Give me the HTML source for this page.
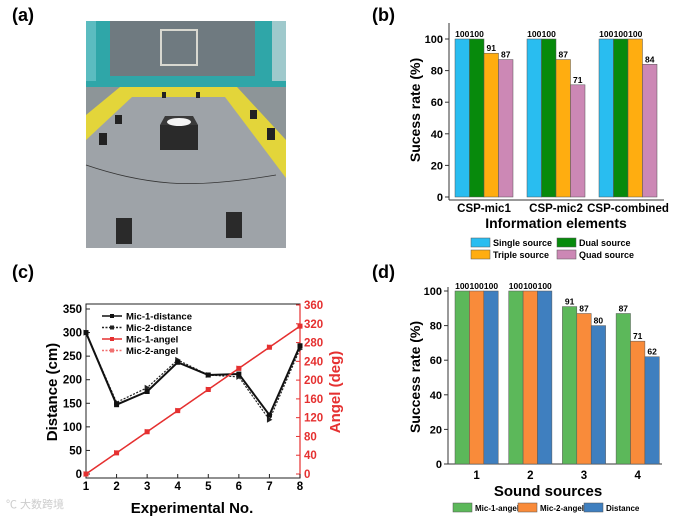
<!DOCTYPE html>
<html><head><meta charset="utf-8"><style>
body{margin:0;background:#fff;}
svg{display:block;font-family:"Liberation Sans",Arial,sans-serif;font-weight:bold;}
</style></head><body>
<svg id="fig" width="674" height="519" viewBox="0 0 674 519" xmlns="http://www.w3.org/2000/svg">
<text x="12" y="21" font-size="18">(a)</text>
<text x="372" y="21" font-size="18">(b)</text>
<text x="12" y="278" font-size="18">(c)</text>
<text x="372" y="278" font-size="18">(d)</text>

<g>
<rect x="86" y="21" width="200" height="227" fill="#8d9598"/>
<rect x="86" y="21" width="200" height="66" fill="#2fa6a8"/>
<rect x="110" y="21" width="145" height="55" fill="#6f7a80"/>
<rect x="86" y="21" width="10" height="60" fill="#5bbcc0"/>
<rect x="272" y="21" width="14" height="60" fill="#9fc9cc"/>
<rect x="161" y="30" width="36" height="35" fill="none" stroke="#d8d8d0" stroke-width="2"/>
<polygon points="120,87 237,87 286,140 286,183 86,183 86,115" fill="#e3d53a"/>
<polygon points="132,97 225,97 286,178 286,248 86,248 86,140" fill="#9ea3a8"/>
<rect x="160" y="125" width="38" height="25" fill="#2a2a2a"/>
<polygon points="165,116 193,116 198,125 160,125" fill="#3a3a3a"/>
<ellipse cx="179" cy="122" rx="12" ry="4" fill="#f4f4f4"/>
<path d="M86,165 Q130,180 170,183 T276,175" stroke="#333" fill="none" stroke-width="0.8"/>
<rect x="116" y="218" width="16" height="26" fill="#2a2a2a"/>
<rect x="226" y="212" width="16" height="26" fill="#2a2a2a"/>
<rect x="115" y="115" width="7" height="9" fill="#222"/>
<rect x="99" y="133" width="8" height="12" fill="#222"/>
<rect x="250" y="110" width="7" height="9" fill="#222"/>
<rect x="267" y="128" width="8" height="12" fill="#222"/>
<rect x="162" y="92" width="4" height="6" fill="#222"/>
<rect x="196" y="92" width="4" height="6" fill="#222"/>
</g>
<g id="pb"></g><g id="pc"></g><g id="pd"></g>
</svg>
<script>
// Panel b data
const bCategories=["CSP-mic1","CSP-mic2","CSP-combined"];
const bSeriesNames=["Single source","Dual source","Triple source","Quad source"];
const bSingle=[100,100,100];
const bDual=[100,100,100];
const bTriple=[91,87,100];
const bQuad=[87,71,84];
const bTicks=[0,20,40,60,80,100];
// Panel c data
const cX=[1,2,3,4,5,6,7,8];
const cMic1Dist=[300,147,175,237,210,212,125,272];
const cMic2Dist=[300,152,183,242,210,206,115,265];
const cMic1Angle=[0,45,90,135,180,225,270,315];
const cMic2Angle=[0,45,90,135,180,225,270,315];
const cLeftTicks=[0,50,100,150,200,250,300,350];
const cRightTicks=[0,40,80,120,160,200,240,280,320,360];
// Panel d data
const dCategories=["1","2","3","4"];
const dMic1=[100,100,91,87];
const dMic2=[100,100,87,71];
const dDist=[100,100,80,62];
const dTicks=[0,20,40,60,80,100];

const NS="http://www.w3.org/2000/svg";
function mk(p,t,a,txt){const e=document.createElementNS(NS,t);for(const k in a)e.setAttribute(k,a[k]);if(txt!==undefined)e.textContent=txt;p.appendChild(e);return e;}

// ---------- Panel b ----------
(function(){
const g=document.getElementById('pb');
const x0=449,x1=664,yTop=23,yBot=200;
const y=v=>197-(v/100)*158;
const gx=i=>455+i*72;
const bw=14.5;
mk(g,'line',{x1:x0,y1:yTop,x2:x0,y2:yBot,stroke:'#333','stroke-width':1});
mk(g,'line',{x1:x0,y1:yBot,x2:x1,y2:yBot,stroke:'#333','stroke-width':1});
bTicks.forEach(t=>{
 mk(g,'line',{x1:x0-4,y1:y(t),x2:x0,y2:y(t),stroke:'#333'});
 const l=mk(g,'text',{x:x0-6,y:y(t)+4,'font-size':11,'text-anchor':'end'},t);
 
});
const series=[bSingle,bDual,bTriple,bQuad];
const cols=['#29bdf0','#078a0c','#ffad10','#cc88b5'];
series.forEach((s,si)=>s.forEach((v,i)=>{
 const bx=gx(i)+si*bw;
 const r=mk(g,'rect',{x:bx,y:y(v),width:bw,height:y(0)-y(v),fill:cols[si],stroke:'#555','stroke-width':0.5});
 
 
 mk(g,'text',{x:bx+bw/2,y:y(v)-2,'font-size':8.5,'text-anchor':'middle'},v);
}));
bCategories.forEach((c,i)=>{
 const t=mk(g,'text',{x:gx(i)+29,y:212,'font-size':11.5,'text-anchor':'middle'},c);
 
});
const xt=mk(g,'text',{x:556,y:228,'font-size':14,'text-anchor':'middle'},'Information elements');

const yt=mk(g,'text',{x:0,y:0,'font-size':14,'text-anchor':'middle',transform:'translate(420,110) rotate(-90)'},'Sucess rate (%)');

const lp=[[471,242],[557,242],[471,254],[557,254]];
[0,1,2,3].forEach((si,k)=>{
 mk(g,'rect',{x:lp[k][0],y:lp[k][1]-4,width:19,height:9,fill:cols[si],stroke:'#555','stroke-width':0.5});
 const t=mk(g,'text',{x:lp[k][0]+22,y:lp[k][1]+4,'font-size':9},bSeriesNames[si]);
 
});
})();

// ---------- Panel c ----------
(function(){
const g=document.getElementById('pc');
const x0=86,x1=300,yTop=304,yBot=478;
const x=v=>86+(v-1)*(214/7);
const yl=v=>474-v*(165/350);
const yr=v=>474-v*(169/360);
mk(g,'rect',{x:x0,y:yTop,width:x1-x0,height:yBot-yTop,fill:'none',stroke:'#222'});
mk(g,'line',{x1:x1,y1:yTop,x2:x1,y2:yBot,stroke:'#e53030','stroke-width':1.2});
cLeftTicks.forEach(t=>{
 mk(g,'line',{x1:x0,y1:yl(t),x2:x0+4,y2:yl(t),stroke:'#222'});
 const l=mk(g,'text',{x:x0-4,y:yl(t)+4,'font-size':11.5,'text-anchor':'end'},t);
 
});
cRightTicks.forEach(t=>{
 mk(g,'line',{x1:x1-4,y1:yr(t),x2:x1,y2:yr(t),stroke:'#e53030'});
 const l=mk(g,'text',{x:x1+4,y:yr(t)+4,'font-size':11.5,fill:'#e53030'},t);
 
});
cX.forEach(v=>{
 mk(g,'line',{x1:x(v),y1:yBot,x2:x(v),y2:yBot-4,stroke:'#222'});
 const l=mk(g,'text',{x:x(v),y:yBot+12,'font-size':11.5,'text-anchor':'middle'},v);
 
});
function line(vals,sc,col,dash,w,name,marker){
 const p=mk(g,'polyline',{points:vals.map((v,i)=>x(cX[i])+','+sc(v)).join(' '),fill:'none',stroke:col,'stroke-width':w,'stroke-dasharray':dash});
 
 
 vals.forEach((v,i)=>{
  if(marker==='sq')mk(g,'rect',{x:x(cX[i])-2.5,y:sc(v)-2.5,width:5,height:5,fill:col});
  else mk(g,'path',{d:`M${x(cX[i])-2.5},${sc(v)-3}L${x(cX[i])+3},${sc(v)}L${x(cX[i])-2.5},${sc(v)+3}Z`,fill:col});
 });
}
line(cMic2Dist,yl,'#222','2,1.5',1.2,'c-line-mic2-distance','tri');
line(cMic1Dist,yl,'#111','',2,'c-line-mic1-distance','sq');
line(cMic2Angle,yr,'#f07070','2,1.5',1.2,'c-line-mic2-angle','tri');
line(cMic1Angle,yr,'#e53030','',1.5,'c-line-mic1-angle','sq');
const leg=[['Mic-1-distance','#111',''],['Mic-2-distance','#222','2,1.5'],['Mic-1-angel','#e53030',''],['Mic-2-angel','#f07070','2,1.5']];
leg.forEach((l,k)=>{
 const yy=316+k*11.5;
 mk(g,'line',{x1:102,y1:yy,x2:122,y2:yy,stroke:l[1],'stroke-width':1.5,'stroke-dasharray':l[2]});
 mk(g,'rect',{x:110,y:yy-2,width:4,height:4,fill:l[1]});
 const t=mk(g,'text',{x:126,y:yy+3.5,'font-size':9.5},l[0]);
 
});
const yt=mk(g,'text',{x:0,y:0,'font-size':15,'text-anchor':'middle',transform:'translate(57,392) rotate(-90)'},'Distance (cm)');

const rt=mk(g,'text',{x:0,y:0,'font-size':15,fill:'#e53030','text-anchor':'middle',transform:'translate(340,392) rotate(-90)'},'Angel (deg)');

const xt=mk(g,'text',{x:192,y:513,'font-size':15,'text-anchor':'middle'},'Experimental No.');

mk(g,'text',{x:6,y:508,'font-size':11,fill:'#ccc','font-weight':'normal'},'℃ 大数跨境');
})();

// ---------- Panel d ----------
(function(){
const g=document.getElementById('pd');
const x0=448,x1=662,yTop=287,yBot=464;
const y=v=>464-(v/100)*173;
const gx=i=>455+i*53.7;
const bw=14.4;
mk(g,'line',{x1:x0,y1:yTop,x2:x0,y2:yBot,stroke:'#333'});
mk(g,'line',{x1:x0,y1:yBot,x2:x1,y2:yBot,stroke:'#333'});
dTicks.forEach(t=>{
 mk(g,'line',{x1:x0-4,y1:y(t),x2:x0,y2:y(t),stroke:'#333'});
 const l=mk(g,'text',{x:x0-6,y:y(t)+4,'font-size':11,'text-anchor':'end'},t);
 
});
const series=[dMic1,dMic2,dDist];
const cols=['#5cb85a','#f98b3a','#3f7fbf'];
series.forEach((s,si)=>s.forEach((v,i)=>{
 const bx=gx(i)+si*bw;
 const r=mk(g,'rect',{x:bx,y:y(v),width:bw,height:y(0)-y(v),fill:cols[si],stroke:'#555','stroke-width':0.5});
 
 
 mk(g,'text',{x:bx+bw/2,y:y(v)-2,'font-size':8.5,'text-anchor':'middle'},v);
}));
dCategories.forEach((c,i)=>{
 const t=mk(g,'text',{x:gx(i)+21.6,y:479,'font-size':11.5,'text-anchor':'middle'},c);
 
});
const xt=mk(g,'text',{x:548,y:496,'font-size':15,'text-anchor':'middle'},'Sound sources');

const yt=mk(g,'text',{x:0,y:0,'font-size':14,'text-anchor':'middle',transform:'translate(420,377) rotate(-90)'},'Success rate (%)');

const names=['Mic-1-angel','Mic-2-angel','Distance'];
const lx=[453,518,584];
names.forEach((n,k)=>{
 mk(g,'rect',{x:lx[k],y:503,width:19,height:9,fill:cols[k],stroke:'#555','stroke-width':0.5});
 const t=mk(g,'text',{x:lx[k]+22,y:511,'font-size':8},n);
 
});
})();
</script>
</body></html>
